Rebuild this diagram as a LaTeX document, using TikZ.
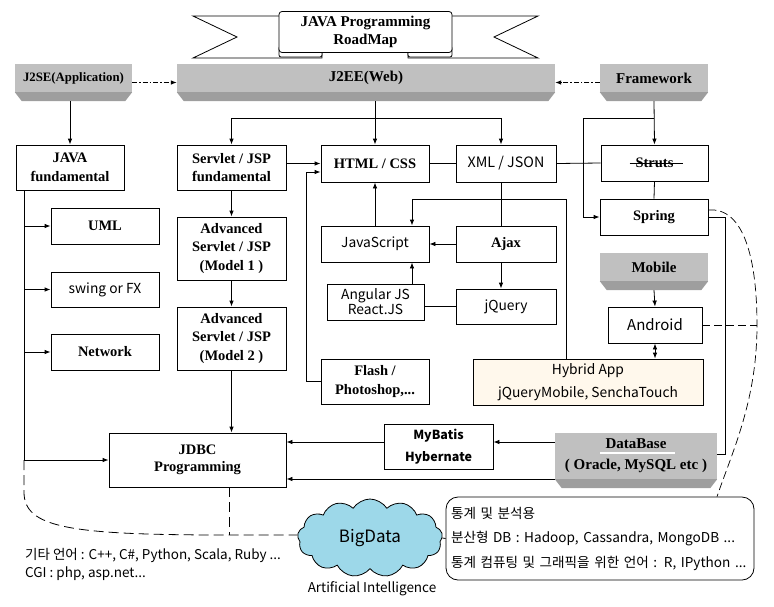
\documentclass[tikz,border=0pt]{standalone}
\usepackage{fontspec}
\setmainfont{Liberation Serif}
\newfontfamily\kr{Noto Sans CJK KR}
\usetikzlibrary{arrows.meta,shapes.symbols}
\definecolor{barlight}{HTML}{C0C0C0}
\definecolor{bardark}{HTML}{9E9E9E}
\definecolor{cloudblue}{HTML}{9DD8E9}
\definecolor{cream}{HTML}{FFF8EC}
\tikzset{
  box/.style={draw,line width=0.8pt,fill=white,inner sep=0pt,align=center},
  wh/.style 2 args={minimum width=#1pt,minimum height=#2pt},
  serifb/.style={font=\fontsize{14.5}{18.5}\selectfont\bfseries},
  sans/.style={font=\kr\fontsize{13.8}{22}\selectfont},
  ln/.style={line width=0.8pt},
  arr/.style={ln,-{Latex[length=6pt,width=4.5pt]}},
  darr/.style={ln,{Latex[length=6pt,width=4.5pt]}-{Latex[length=6pt,width=4.5pt]}},
  dd/.style={arr,dash pattern=on 5pt off 2pt on 1.5pt off 2pt},
  bigdash/.style={ln,dash pattern=on 10pt off 5pt},
  smalldash/.style={line width=0.7pt,dash pattern=on 8pt off 4pt},
  bartext/.style={font=\fontsize{15}{21}\selectfont\bfseries,align=center,inner sep=0pt}
}
\newcommand\grbar[6]{%
  \node[inner sep=0pt,minimum width=#4pt,minimum height=#5pt] (#1) at (#2,#3) {};
  \fill[barlight] (#1.north west) rectangle ([yshift=9pt]#1.south east);
  \fill[bardark] ([yshift=9pt]#1.south west) -- ([yshift=9pt]#1.south east) -- ([xshift=-7pt]#1.south east) -- ([xshift=7pt]#1.south west) -- cycle;
  \node[bartext] (#1-t) at ([yshift=4.5pt]#1.center) {#6};
}
\begin{document}
\begin{tikzpicture}[x=1pt,y=-1pt]
\useasboundingbox (0,0) rectangle (774,606);

% ---- title ribbon
\draw[ln,fill=white] (193,16) -- (322,16) -- (322,58) -- (193,58) -- (237,37) -- cycle;
\draw[ln,fill=white] (538,16) -- (408,16) -- (408,58) -- (538,58) -- (494,37) -- cycle;
\draw[ln,fill=white,rounded corners=2pt] (279,46) rectangle (322,57);
\draw[ln,fill=white,rounded corners=2pt] (408,46) rectangle (452,57);
\node[box,wh={173}{41},rounded corners=3pt,font=\fontsize{15}{18}\selectfont\bfseries] (title) at (365.5,32) {JAVA Programming\\RoadMap};

% ---- gray bars
\grbar{j2se}{73.5}{82.5}{117}{37}{\fontsize{12.8}{15}\selectfont J2SE(Application)}
\grbar{j2ee}{366}{82.5}{378}{37}{J2EE(Web)}
\grbar{fw}{654}{82.5}{108}{37}{Framework}
\grbar{mobile}{654}{271.5}{108}{37}{Mobile}
\grbar{db}{636}{460.5}{162}{55}{DataBase\\( Oracle, MySQL etc )}
\draw[white,line width=1.6pt] (600,453) -- (675,453);

% ---- boxes
\node[box,serifb,wh={108}{45}] (javaf) at (70,167.5) {JAVA\\fundamental};
\node[box,serifb,wh={108}{36}] (uml) at (105,226) {UML};
\node[box,sans,wh={108}{35}] (swing) at (105,289.5) {swing or FX};
\node[box,serifb,wh={108}{36}] (network) at (105,352) {Network};

\node[box,serifb,wh={109}{45}] (servf) at (231.5,167.5) {Servlet / JSP\\fundamental};
\node[box,serifb,wh={109}{63}] (model1) at (231.5,248.5) {Advanced\\Servlet / JSP\\(Model 1 )};
\node[box,serifb,wh={109}{63}] (model2) at (231.5,338.5) {Advanced\\Servlet / JSP\\(Model 2 )};
\node[box,wh={177}{54},font=\fontsize{14.5}{17}\selectfont\bfseries] (jdbc) at (197.5,460) {JDBC\\Programming};

\node[box,serifb,wh={108}{37}] (html) at (375,163.5) {HTML / CSS};
\node[box,wh={100}{37},font=\kr\fontsize{14.3}{18}\selectfont] (xml) at (506,163.5) {XML / JSON};
\node[box,serifb,wh={107}{36}] (struts) at (654.5,163) {Struts};
\draw[line width=0.8pt] ([xshift=-25pt]struts.center) -- ([xshift=28pt]struts.center);
\node[box,serifb,wh={108}{36}] (spring) at (654,217) {Spring};

\node[box,sans,wh={108}{36}] (js) at (375,244) {JavaScript};
\node[box,serifb,wh={100}{36}] (ajax) at (506,244) {Ajax};
\node[box,sans,wh={100}{35}] (jquery) at (506,306.5) {jQuery};
\node[box,wh={97}{36},font=\kr\fontsize{13.8}{15}\selectfont] (angular) at (375.5,302) {Angular JS\\React.JS};
\node[box,serifb,wh={108}{45}] (flash) at (375,381.5) {Flash /\\Photoshop,...};

\node[box,wh={94}{36},font=\kr\fontsize{15}{18}\selectfont] (android) at (655,325) {Android};
\node[box,wh={230}{46},fill=cream,font=\kr\fontsize{13.8}{23}\selectfont] (hybrid) at (588,382) {Hybrid App\\jQueryMobile, SenchaTouch};
\node[box,wh={109}{45},font=\kr\bfseries\fontsize{12.5}{22}\selectfont] (mybatis) at (438.5,446.5) {MyBatis\\Hybernate};

\node[box,wh={308}{83},rounded corners=12pt,align=left,font=\kr\fontsize{13.6}{24.5}\selectfont,text width=298pt] (stats) at (600,538.5) {통계 및 분석용\\분산형 DB : Hadoop, Cassandra, MongoDB ...\\통계 컴퓨팅 및 그래픽을 위한 언어 : R, IPython ...};
\node[cloud,cloud puffs=13,cloud puff arc=115,cloud ignores aspect,draw,line width=0.8pt,fill=cloudblue,minimum width=145pt,minimum height=78pt,inner sep=0pt,font=\kr\fontsize{17}{20}\selectfont] (cloud) at (370,538) {BigData};

\node[anchor=west,inner sep=0pt,font=\kr\fontsize{13.5}{15}\selectfont] (other) at (25,555) {기타 언어 : C++, C\#, Python, Scala, Ruby ...};
\node[anchor=west,inner sep=0pt,font=\kr\fontsize{13.5}{15}\selectfont] (cgi) at (25,574) {CGI : php, asp.net...};
\node[inner sep=0pt,font=\kr\fontsize{13.5}{15}\selectfont] (ai) at (372,589) {Artificial Intelligence};

% ---- coordinates
\coordinate (lx) at (24,0);
\coordinate (b1) at (376,118);
\coordinate (b2) at (654,118);
\coordinate (b2l) at (583,118);
\coordinate (b3) at (566,199);
\coordinate (b3l) at (412,199);
\coordinate (fl) at (306,172);
\coordinate (sd) at (725,454);
\coordinate (jd) at (229,535);
\coordinate (ad) at (757,325);
\coordinate (se) at (717,0);

% ---- connectors
\draw[dd] (j2se.east) -- (j2ee.west);
\draw[dd] (fw.west) -- (j2ee.east);
\draw[arr] (javaf.north |- j2se.south) -- (javaf.north);
\draw[arr] (html.north |- j2ee.south) -- (html.north);
\draw[arr] (b1) -| (servf.north);
\draw[arr] (b1) -| ([xshift=-5pt]xml.north);

\draw[arr] (javaf.south -| lx) |- (jdbc.west);
\draw[arr] (uml.west -| lx) -- (uml.west);
\draw[arr] (swing.west -| lx) -- (swing.west);
\draw[arr] (network.west -| lx) -- (network.west);

\draw[arr] (servf.south) -- (model1.north);
\draw[arr] (model1.south) -- (model2.north);
\draw[arr] (model2.south) -- (model2.south |- jdbc.north);
\draw[arr] (servf.east |- html.west) -- (html.west);
\draw[arr] (flash.west) -| (fl) -- (fl -| html.west);

\draw[ln] (html.east) -- (xml.west);
\draw[ln] (xml.east) -- (struts.west);
\draw[arr] (fw.south) -- (struts.north);
\draw[arr] (b2) -- (b2l) |- (spring.west);
\draw[ln] (struts.south) -- (spring.north);
\draw[ln] (spring.east) -| (sd) -- (sd -| db.east);

\draw[ln] ([xshift=-5pt]xml.south) -- ([xshift=-5pt]ajax.north);
\draw[arr] (b3) -- (b3l) -- (b3l |- js.north);
\draw[ln] (b3) -- (b3 |- hybrid.north);
\draw[arr] (ajax.west) -- (js.east);
\draw[arr] (js.north) -- (html.south);
\draw[arr] ([xshift=-5pt]ajax.south) -- ([xshift=-5pt]jquery.north);
\draw[arr] (angular.north -| b3l) -- (js.south -| b3l);
\draw[ln] (angular.east |- jquery.west) -- (jquery.west);

\draw[arr] (mobile.south) -- (android.north);
\draw[darr] (android.south) -- (android.south |- hybrid.north);
\draw[smalldash] (android.east) -- (ad);
\draw[smalldash] ([yshift=7pt]spring.east) .. controls (745,207) and (757,262) .. (ad) .. controls (757,400) and (733,450) .. (se |- stats.north);

\draw[arr] ([yshift=4.5pt]mybatis.east -| db.west) -- ([yshift=4.5pt]mybatis.east);
\draw[arr] ([yshift=4.5pt]mybatis.west) -- ([yshift=4.5pt]mybatis.west -| jdbc.east);
\draw[arr] ([yshift=-18.5pt]db.west) -- ([yshift=-18.5pt]db.west -| jdbc.east);

\draw[bigdash] (jdbc.west -| lx) -- (24,492) .. controls (24,528) and (70,535) .. (jd) -- (jd -| cloud.west);
\draw[bigdash] (jdbc.south -| jd) -- (jd);
\draw[ln] (cloud.east) -- (stats.west);
\end{tikzpicture}
\end{document}
